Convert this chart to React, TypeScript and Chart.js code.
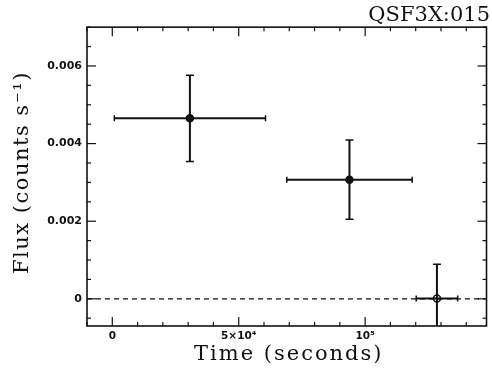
import React, { useEffect, useRef } from "react";
import { Chart, registerables } from "chart.js";

Chart.register(...registerables);

const chartTitle = "QSF3X:015";
const xAxisTitle = "Time (seconds)";
const yAxisTitle = "Flux (counts s⁻¹)";

const times = [30700, 93800, 128400];
const timeErrors = [29900, 24800, 8200];
const fluxes = [0.00465, 0.00307, 0.00001];
const fluxErrors = [0.00111, 0.00102, 0.00088];
const markerFilled = [true, true, false];

const xTickValues = [0, 50000, 100000];
const xTickLabels = ["0", "5×10⁴", "10⁵"];
const yTickValues = [0, 0.002, 0.004, 0.006];
const yTickLabels = ["0", "0.002", "0.004", "0.006"];
const xRange = [-10000, 148000];
const yRange = [-0.0007, 0.007];
const xMinorStep = 10000;
const yMinorStep = 0.0005;

const INK = "#111111";
const SERIF = "'DejaVu Serif', serif";
const SANS = "'DejaVu Sans', sans-serif";

const framePlugin = {
  id: "frameTicks",
  afterDraw(chart: any) {
    const { ctx, chartArea, scales } = chart;
    const { left, right, top, bottom } = chartArea;
    const xs = scales.x;
    const ys = scales.y;
    ctx.save();
    ctx.strokeStyle = INK;
    ctx.lineWidth = 1.6;
    ctx.strokeRect(left, top, right - left, bottom - top);
    ctx.lineWidth = 1.2;
    const line = (x1: number, y1: number, x2: number, y2: number) => {
      ctx.beginPath();
      ctx.moveTo(x1, y1);
      ctx.lineTo(x2, y2);
      ctx.stroke();
    };
    const isMajor = (v: number, list: number[], step: number) =>
      list.some((m) => Math.abs(m - v) < step * 1e-3);
    const xStart = Math.ceil(xRange[0] / xMinorStep);
    const xEnd = Math.floor(xRange[1] / xMinorStep);
    for (let k = xStart; k <= xEnd; k++) {
      const v = k * xMinorStep;
      const len = isMajor(v, xTickValues, xMinorStep) ? 9 : 4;
      const px = xs.getPixelForValue(v);
      line(px, bottom, px, bottom - len);
      line(px, top, px, top + len);
    }
    const yStart = Math.ceil(yRange[0] / yMinorStep);
    const yEnd = Math.floor(yRange[1] / yMinorStep);
    for (let k = yStart; k <= yEnd; k++) {
      const v = k * yMinorStep;
      const len = isMajor(v, yTickValues, yMinorStep) ? 9 : 4;
      const py = ys.getPixelForValue(v);
      line(left, py, left + len, py);
      line(right, py, right - len, py);
    }
    ctx.restore();
  },
};

// widen the axis titles a little (letter spacing) like the reference's plotter font
const titleSpacingPlugin = {
  id: "titleSpacing",
  afterLayout(chart: any) {
    const patch = (scale: any, spacing: number, dx: number, dy: number) => {
      if (!scale || scale.__spaced) return;
      const orig = scale.drawTitle.bind(scale);
      scale.drawTitle = function () {
        const ctx = this.ctx;
        ctx.save();
        ctx.letterSpacing = spacing + "px";
        ctx.translate(dx, dy);
        orig();
        ctx.restore();
      };
      scale.__spaced = true;
    };
    patch(chart.scales.x, 2, 2, 0);
    patch(chart.scales.y, 1.5, 0, -4);
  },
};

export default function App() {
  const canvasRef = useRef<HTMLCanvasElement | null>(null);

  useEffect(() => {
    document.body.style.margin = "0";
    document.body.style.background = "#ffffff";
    const canvas = canvasRef.current;
    if (!canvas) return;

    const datasets: any[] = [
      {
        label: "zero",
        data: [
          { x: xRange[0], y: 0 },
          { x: xRange[1], y: 0 },
        ],
        showLine: true,
        borderColor: INK,
        borderWidth: 1.2,
        borderDash: [5, 4],
        pointRadius: 0,
      },
    ];

    times.forEach((t, i) => {
      const f = fluxes[i];
      datasets.push({
        label: "xerr" + i,
        data: [
          { x: t - timeErrors[i], y: f },
          { x: t + timeErrors[i], y: f },
        ],
        showLine: true,
        borderColor: INK,
        borderWidth: 2,
        pointStyle: "line",
        pointRotation: 90,
        pointRadius: 3,
        pointBorderWidth: 1.5,
        pointBorderColor: INK,
      });
      datasets.push({
        label: "yerr" + i,
        data: [
          { x: t, y: f - fluxErrors[i] },
          { x: t, y: f + fluxErrors[i] },
        ],
        showLine: true,
        borderColor: INK,
        borderWidth: 2,
        pointStyle: "line",
        pointRotation: 0,
        pointRadius: 4,
        pointBorderWidth: 1.5,
        pointBorderColor: INK,
      });
      datasets.push({
        label: "pt" + i,
        data: [{ x: t, y: f }],
        showLine: false,
        pointStyle: "circle",
        pointRadius: 3.5,
        pointBorderWidth: 1.5,
        pointBorderColor: INK,
        pointBackgroundColor: markerFilled[i] ? INK : "#ffffff",
      });
    });

    const chart = new Chart(canvas, {
      type: "scatter",
      data: { datasets },
      options: {
        animation: false,
        responsive: false,
        events: [],
        layout: { padding: { top: 0, right: 2, left: 0, bottom: 0 } },
        plugins: {
          legend: { display: false },
          tooltip: { enabled: false },
          title: {
            display: true,
            text: chartTitle,
            align: "end",
            color: INK,
            font: { family: SERIF, size: 21, weight: "normal", lineHeight: 1.15 },
            padding: { top: 3, bottom: 0 },
          },
        },
        scales: {
          x: {
            type: "linear",
            min: xRange[0],
            max: xRange[1],
            grid: { display: false, drawTicks: false },
            border: { display: false },
            afterBuildTicks: (scale: any) => {
              scale.ticks = xTickValues.map((v) => ({ value: v }));
            },
            afterFit: (scale: any) => {
              scale.height = 55;
            },
            ticks: {
              padding: 4,
              maxRotation: 0,
              autoSkip: false,
              color: INK,
              font: { family: SANS, size: 10.5, weight: "bold" },
              callback: (value: any) => {
                const idx = xTickValues.indexOf(Number(value));
                return idx >= 0 ? xTickLabels[idx] : "";
              },
            },
            title: {
              display: true,
              text: xAxisTitle,
              color: INK,
              font: { family: SERIF, size: 21, weight: "normal" },
              padding: { top: 0, bottom: 14 },
            },
          },
          y: {
            type: "linear",
            min: yRange[0],
            max: yRange[1],
            grid: { display: false, drawTicks: false },
            border: { display: false },
            afterBuildTicks: (scale: any) => {
              scale.ticks = yTickValues.map((v) => ({ value: v }));
            },
            afterFit: (scale: any) => {
              scale.width = 87;
            },
            ticks: {
              padding: 5,
              autoSkip: false,
              color: INK,
              font: { family: SANS, size: 11, weight: "bold" },
              callback: (value: any) => {
                const idx = yTickValues.findIndex((v) => Math.abs(v - Number(value)) < 1e-9);
                return idx >= 0 ? yTickLabels[idx] : "";
              },
            },
            title: {
              display: true,
              text: yAxisTitle,
              color: INK,
              font: { family: SERIF, size: 21, weight: "normal" },
              padding: { top: 10, bottom: 0 },
            },
          },
        },
      },
      plugins: [framePlugin, titleSpacingPlugin],
    });

    return () => {
      chart.destroy();
    };
  }, []);

  return (
    <div style={{ width: 492, height: 381 }}>
      <canvas ref={canvasRef} width={492} height={381} style={{ display: "block", width: 492, height: 381 }} />
    </div>
  );
}
